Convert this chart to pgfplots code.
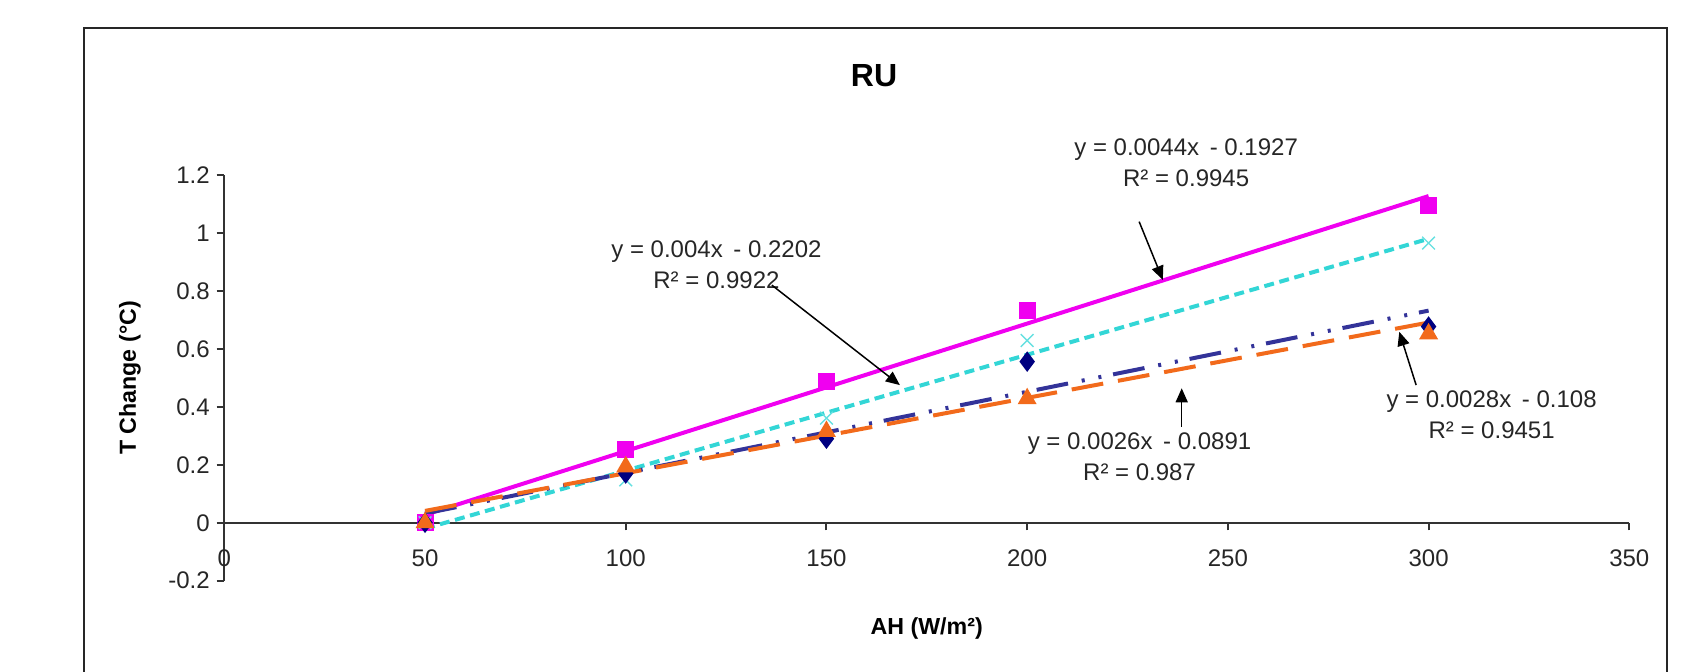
\documentclass[border=0pt]{standalone}
\usepackage{fontspec}
\setmainfont{Liberation Sans}
\usepackage{pgfplots}
\pgfplotsset{compat=1.18}
\usetikzlibrary{arrows.meta}
\definecolor{cMag}{HTML}{F000F0}
\definecolor{cCya}{HTML}{33D6D6}
\definecolor{cNavyL}{HTML}{333399}
\definecolor{cNavyM}{HTML}{000080}
\definecolor{cOra}{HTML}{F26A1B}
\definecolor{axgray}{HTML}{333333}
\tikzset{
  eqn/.style={align=center, font=\fontsize{12}{15.5}\selectfont, text=black!85},
  callout/.style={-{Triangle[length=7pt,width=6pt]}, line width=0.75pt, black},
}

\begin{document}
\begin{tikzpicture}
\useasboundingbox (-112.15pt,-45.15pt) rectangle (736.85pt,290.35pt);
\draw[line width=1pt, black!85] (-69.9pt,-60pt) -- (-69.9pt,276.35pt) -- (721.35pt,276.35pt) -- (721.35pt,-60pt);
\begin{axis}[
  at={(0pt,0pt)}, anchor=south west,
  scale only axis, width=702.5pt, height=202.85pt,
  xmin=0, xmax=350, ymin=-0.2, ymax=1.2,
  axis x line=middle, axis y line=left,
  axis line style={-, line width=1pt, draw=axgray},
  xtick={0,50,100,150,200,250,300,350},
  ytick={-0.2,0,0.2,0.4,0.6,0.8,1,1.2},
  tick align=outside, major tick length=3.8pt,
  tick style={line width=1pt, draw=axgray},
  hide obscured x ticks=false, hide obscured y ticks=false,
  tick label style={font=\fontsize{12}{14}\selectfont, text=black!85},
  xticklabel style={yshift=-6pt},
  /pgf/number format/assume math mode=true,
  clip=false,
  every axis plot/.append style={line width=2pt},
]
% trendlines
\addplot[cMag, mark=none] coordinates {(50,0.0273)(300,1.1273)};
\addplot[cCya, mark=none, dash pattern=on 5pt off 2.8pt] coordinates {(50,-0.0202)(300,0.9798)};
\addplot[cNavyL, mark=none, dash pattern=on 16pt off 7pt on 1.5pt off 7pt on 1.5pt off 6pt] coordinates {(50,0.032)(300,0.732)};
\addplot[cOra, mark=none, dash pattern=on 16pt off 7.5pt] coordinates {(50,0.0409)(300,0.6909)};
% measured points
\addplot[only marks, mark=square*, mark size=3.25pt, cMag] coordinates {(50,0)(100,0.252)(150,0.487)(200,0.732)(300,1.096)};
\addplot[only marks, mark=x, mark size=4.5pt, cCya!75!white, mark options={line width=0.7pt}] coordinates {(50,0)(100,0.148)(150,0.361)(200,0.629)(300,0.965)};
\addplot[only marks, mark=diamond*, mark size=3.5pt, cNavyM] coordinates {(50,0)(100,0.17)(150,0.29)(200,0.556)(300,0.677)};
\addplot[only marks, mark=triangle*, mark size=3.5pt, cOra] coordinates {(50,0)(100,0.193)(150,0.315)(200,0.428)(300,0.652)};
% equation labels
\node[eqn] at (axis cs:239.6,1.244) {y = 0.0044x\, - 0.1927\\R² = 0.9945};
\node[eqn] at (axis cs:122.6,0.892) {y = 0.004x\, - 0.2202\\R² = 0.9922};
\node[eqn] at (axis cs:228.0,0.229) {y = 0.0026x\, - 0.0891\\R² = 0.987};
\node[eqn] at (axis cs:315.7,0.372) {y = 0.0028x\, - 0.108\\R² = 0.9451};
\draw[callout] (axis cs:227.9,1.039) -- (axis cs:233.8,0.838);
\draw[callout] (axis cs:136.4,0.820) -- (axis cs:168.3,0.475);
\draw[callout] (axis cs:238.5,0.331) -- (axis cs:238.5,0.464);
\draw[callout] (axis cs:296.9,0.475) -- (axis cs:292.7,0.659);
\end{axis}
\node[font=\bfseries\fontsize{16}{19}\selectfont] at (324.85pt,252.5pt) {RU};
\node[font=\bfseries\fontsize{11.6}{14}\selectfont] at (351.2pt,-23.8pt) {AH (W/m²)};
\node[font=\bfseries\fontsize{11.6}{14}\selectfont, rotate=90] at (-47.15pt,101.35pt) {T Change (°C)};
\end{tikzpicture}
\end{document}
